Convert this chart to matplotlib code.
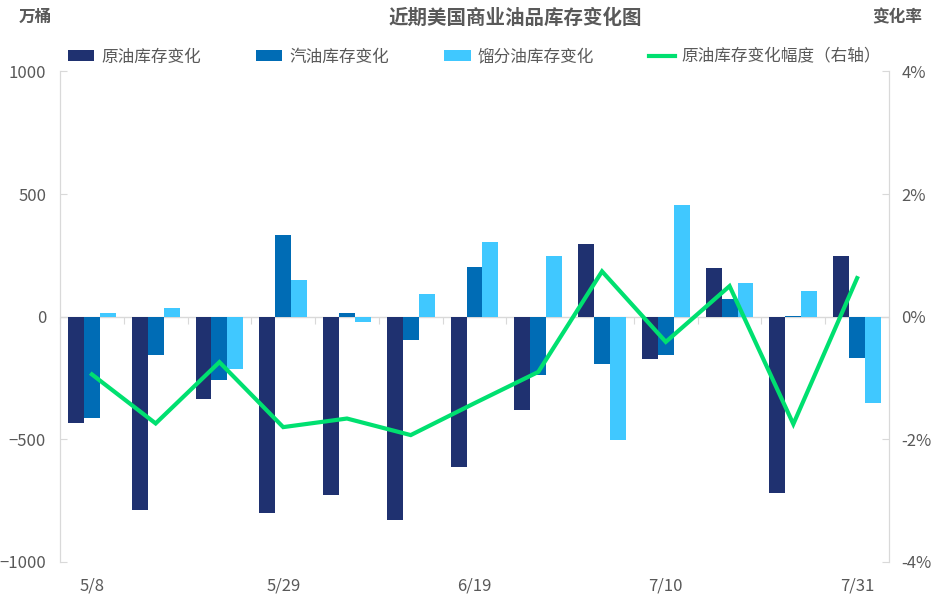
import numpy as np
import matplotlib
matplotlib.use('Agg')
from matplotlib import pyplot as plt
from matplotlib.ticker import FuncFormatter, FixedLocator, NullFormatter

plt.rcParams['font.family'] = ['Noto Sans CJK SC', 'DejaVu Sans']

dates = ['5/8', '5/15', '5/22', '5/29', '6/5', '6/12', '6/19',
         '6/26', '7/3', '7/10', '7/17', '7/24', '7/31']
crude = [-433, -788, -335, -799, -727, -829, -613, -380, 296, -172, 198, -719, 247]
gasoline = [-413, -156, -258, 333, 14, -95, 203, -237, -193, -156, 74, 3, -168]
distillate = [14, 35, -213, 149, -22, 92, 304, 247, -503, 455, 137, 104, -352]
crude_pct = [-0.94, -1.74, -0.74, -1.80, -1.66, -1.93, -1.41,
             -0.90, 0.74, -0.41, 0.50, -1.75, 0.63]
shown_labels = ['5/8', '5/29', '6/19', '7/10', '7/31']

TEXT = '#595959'
GRID = '#D9D9D9'

fig = plt.figure(figsize=(9.37, 6.01), dpi=100)
ax = fig.add_axes([60 / 937, 1 - 562 / 601, 829 / 937, 490.5 / 601])
ax2 = ax.twinx()

x = np.arange(len(dates))
w = 0.25
b1 = ax.bar(x - w, crude, w, color='#1F3170', label='原油库存变化', zorder=2)
b2 = ax.bar(x, gasoline, w, color='#006CB5', label='汽油库存变化', zorder=2)
b3 = ax.bar(x + w, distillate, w, color='#40C8FF', label='馏分油库存变化', zorder=2)
ax.axhline(0, color=GRID, lw=1, zorder=1)

ln, = ax2.plot(x, crude_pct, color='#00E070', lw=3, label='原油库存变化幅度（右轴）',
               solid_joinstyle='miter', zorder=3)

ax.set_xlim(-0.5, len(dates) - 0.5)
ax.set_ylim(-1000, 1000)
ax.set_yticks([-1000, -500, 0, 500, 1000])
ax2.set_ylim(-4, 4)
ax2.set_yticks([-4, -2, 0, 2, 4])
ax2.yaxis.set_major_formatter(FuncFormatter(lambda v, p: f'{v:.0f}%'))

idx = [dates.index(d) for d in shown_labels]
ax.set_xticks(idx)
ax.set_xticklabels(shown_labels)
ax.tick_params(axis='x', length=0, pad=11, labelsize=12, labelcolor=TEXT)
ax.tick_params(axis='y', direction='in', length=5, color=GRID, pad=10,
               labelsize=12, labelcolor=TEXT)
ax2.tick_params(axis='y', direction='in', length=5, color=GRID, pad=9,
                labelsize=12, labelcolor=TEXT)

for a in (ax, ax2):
    a.spines['top'].set_visible(False)
    a.spines['bottom'].set_visible(False)
    a.spines['left'].set_color(GRID)
    a.spines['right'].set_color(GRID)

# category tick marks on the zero line
sec = ax.secondary_xaxis(0.5)
for s in sec.spines.values():
    s.set_visible(False)
sec.xaxis.set_major_locator(FixedLocator(np.arange(len(dates) + 1) - 0.5))
sec.xaxis.set_major_formatter(NullFormatter())
sec.tick_params(axis='x', direction='in', length=5, color=GRID)

fig.text(515 / 937, 1 - 18 / 601, '近期美国商业油品库存变化图', ha='center', va='center',
         fontsize=14, color=TEXT, fontweight='bold')
fig.text(35 / 937, 1 - 17 / 601, '万桶', ha='center', va='center',
         fontsize=12, color=TEXT, fontweight='bold')
fig.text(897 / 937, 1 - 17 / 601, '变化率', ha='center', va='center',
         fontsize=12, color=TEXT, fontweight='bold')

fig.legend(handles=[b1, b2, b3, ln], loc='center left',
           bbox_to_anchor=(61 / 937, 1 - 57 / 601), ncol=4, frameon=False,
           fontsize=12, labelcolor=TEXT, handlelength=1.6, handleheight=0.6,
           handletextpad=0.4, columnspacing=3.3, borderaxespad=0)

fig.savefig('out.png', dpi=100)
